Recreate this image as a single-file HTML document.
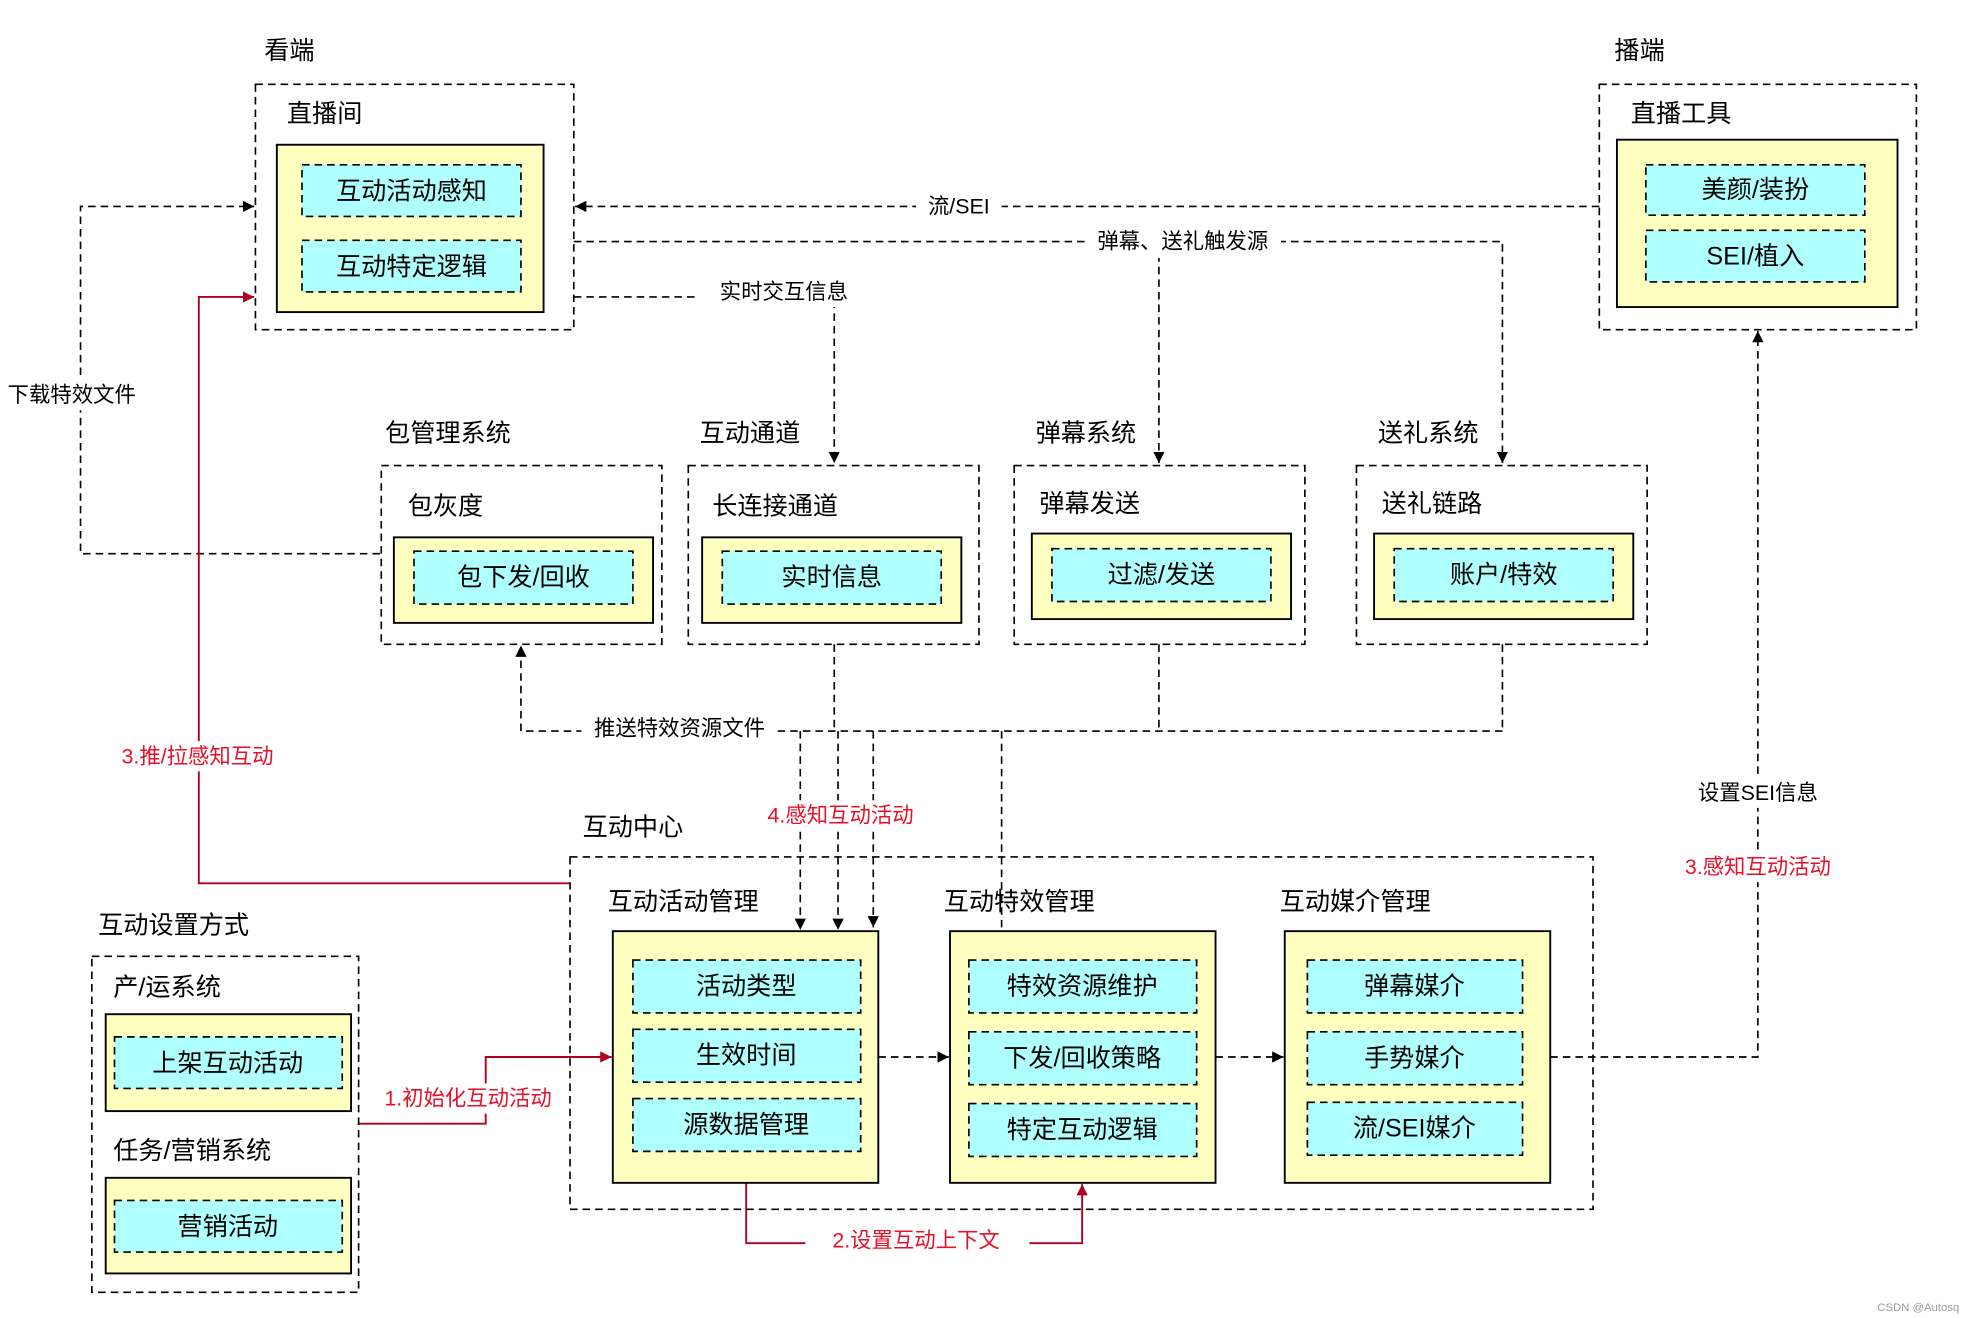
<!DOCTYPE html>
<html><head><meta charset="utf-8"><style>
html,body{margin:0;padding:0;background:#fff;}
svg{display:block}
text{font-family:"Liberation Sans","Noto Sans CJK SC",sans-serif;fill:#000;}
.t{font-size:20px}
.c{font-size:20px;text-anchor:middle;dominant-baseline:central}
.l{font-size:17px;text-anchor:middle;dominant-baseline:central}
.r{fill:#e8102a}
.d{fill:none;stroke:#000;stroke-width:1.3;stroke-dasharray:6,4}
.y{fill:#ffffc0;stroke:#000;stroke-width:1.5}
.cy{fill:#b0ffff;stroke:#000;stroke-width:1.3;stroke-dasharray:6,4}
.rl{fill:none;stroke:#b00020;stroke-width:1.5}
</style></head><body>
<svg width="1968" height="1318" viewBox="0 0 1564 1047.4" xmlns="http://www.w3.org/2000/svg">
<defs>
<marker id="a" viewBox="0 0 10 10" refX="10" refY="5" markerWidth="9" markerHeight="9" orient="auto" markerUnits="userSpaceOnUse"><path d="M0,0L10,5L0,10z" fill="#000"/></marker>
<marker id="ar" viewBox="0 0 10 10" refX="10" refY="5" markerWidth="9" markerHeight="9" orient="auto" markerUnits="userSpaceOnUse"><path d="M0,0L10,5L0,10z" fill="#b00020"/></marker>
</defs>
<!-- connectors -->
<path class="d" d="M1271,164H457" marker-end="url(#a)"/>
<path class="d" d="M456,192H1194V368" marker-end="url(#a)"/>
<path class="d" d="M921,192V368" marker-end="url(#a)"/>
<path class="d" d="M456,236H663V368" marker-end="url(#a)"/>
<path class="d" d="M302,440H64V164H202" marker-end="url(#a)"/>
<path class="rl" d="M453,702H158V236H202" marker-end="url(#ar)"/>
<path class="d" d="M663,512V581M921,512V581M1194,512V581M1194,581H414"/>
<path class="d" d="M414,581V513" marker-end="url(#a)"/>
<path class="d" d="M636,581V739" marker-end="url(#a)"/>
<path class="d" d="M666,581V739" marker-end="url(#a)"/>
<path class="d" d="M694,581V737" marker-end="url(#a)"/>
<path class="d" d="M796,581V740"/>
<path class="d" d="M698,840H754" marker-end="url(#a)"/>
<path class="d" d="M966,840H1020" marker-end="url(#a)"/>
<path class="d" d="M1232,840H1397V263" marker-end="url(#a)"/>
<path class="rl" d="M593,940V988H860V941" marker-end="url(#ar)"/>
<path class="rl" d="M285,893H386V840H486" marker-end="url(#ar)"/>
<!-- label backgrounds -->
<rect x="728" y="152" width="68" height="24" fill="#fff"/>
<rect x="862" y="181" width="156" height="24" fill="#fff"/>
<rect x="553" y="220" width="140" height="24" fill="#fff"/>
<rect x="4" y="302" width="110" height="24" fill="#fff"/>
<rect x="462" y="567" width="156" height="24" fill="#fff"/>
<rect x="600" y="636" width="136" height="24" fill="#fff"/>
<rect x="1340" y="618" width="114" height="24" fill="#fff"/>
<rect x="1330" y="677" width="134" height="24" fill="#fff"/>
<rect x="640" y="974" width="178" height="24" fill="#fff"/>
<rect x="298" y="861" width="148" height="24" fill="#fff"/>
<rect x="88" y="589" width="140" height="24" fill="#fff"/>
<!-- labels -->
<text class="l" x="762" y="164">流/SEI</text>
<text class="l" x="940" y="192">弹幕、送礼触发源</text>
<text class="l" x="623" y="232">实时交互信息</text>
<text class="l" x="57" y="314">下载特效文件</text>
<text class="l" x="540" y="579">推送特效资源文件</text>
<text class="l r" x="668" y="648">4.感知互动活动</text>
<text class="l" x="1397" y="630">设置SEI信息</text>
<text class="l r" x="1397" y="689">3.感知互动活动</text>
<text class="l r" x="728" y="986">2.设置互动上下文</text>
<text class="l r" x="372" y="873">1.初始化互动活动</text>
<text class="l r" x="157" y="601">3.推/拉感知互动</text>
<!-- top -->
<text class="t" x="210" y="47">看端</text>
<text class="t" x="1283" y="47">播端</text>
<rect class="d" x="203" y="67" width="253" height="195"/>
<text class="t" x="228" y="97">直播间</text>
<rect class="y" x="220" y="115" width="212" height="133"/>
<rect class="cy" x="240" y="131" width="174" height="41"/><text class="c" x="327" y="152">互动活动感知</text>
<rect class="cy" x="240" y="191" width="174" height="41"/><text class="c" x="327" y="212">互动特定逻辑</text>
<rect class="d" x="1271" y="67" width="252" height="195"/>
<text class="t" x="1296" y="97">直播工具</text>
<rect class="y" x="1285" y="111" width="223" height="133"/>
<rect class="cy" x="1308" y="131" width="174" height="40"/><text class="c" x="1395" y="151">美颜/装扮</text>
<rect class="cy" x="1308" y="183" width="174" height="41"/><text class="c" x="1395" y="204">SEI/植入</text>
<!-- middle -->
<text class="t" x="306" y="351">包管理系统</text>
<rect class="d" x="303" y="370" width="223" height="142"/>
<text class="t" x="324" y="409">包灰度</text>
<rect class="y" x="313" y="427" width="206" height="68"/>
<rect class="cy" x="329" y="438" width="174" height="42"/><text class="c" x="416" y="459">包下发/回收</text>
<text class="t" x="556" y="351">互动通道</text>
<rect class="d" x="547" y="370" width="231" height="142"/>
<text class="t" x="566" y="409">长连接通道</text>
<rect class="y" x="558" y="427" width="206" height="68"/>
<rect class="cy" x="574" y="438" width="174" height="42"/><text class="c" x="661" y="459">实时信息</text>
<text class="t" x="823" y="351">弹幕系统</text>
<rect class="d" x="806" y="370" width="231" height="142"/>
<text class="t" x="826" y="407">弹幕发送</text>
<rect class="y" x="820" y="424" width="206" height="68"/>
<rect class="cy" x="836" y="436" width="174" height="42"/><text class="c" x="923" y="457">过滤/发送</text>
<text class="t" x="1095" y="351">送礼系统</text>
<rect class="d" x="1078" y="370" width="231" height="142"/>
<text class="t" x="1098" y="407">送礼链路</text>
<rect class="y" x="1092" y="424" width="206" height="68"/>
<rect class="cy" x="1108" y="436" width="174" height="42"/><text class="c" x="1195" y="457">账户/特效</text>
<!-- center -->
<text class="t" x="463" y="664">互动中心</text>
<rect class="d" x="453" y="681" width="813" height="280"/>
<text class="t" x="483" y="723">互动活动管理</text>
<rect class="y" x="487" y="740" width="211" height="200"/>
<rect class="cy" x="503" y="763" width="181" height="42"/><text class="c" x="593" y="784">活动类型</text>
<rect class="cy" x="503" y="818" width="181" height="42"/><text class="c" x="593" y="839">生效时间</text>
<rect class="cy" x="503" y="873" width="181" height="42"/><text class="c" x="593" y="894">源数据管理</text>
<text class="t" x="750" y="723">互动特效管理</text>
<rect class="y" x="755" y="740" width="211" height="200"/>
<rect class="cy" x="770" y="763" width="181" height="42"/><text class="c" x="860" y="784">特效资源维护</text>
<rect class="cy" x="770" y="820" width="181" height="42"/><text class="c" x="860" y="841">下发/回收策略</text>
<rect class="cy" x="770" y="877" width="181" height="42"/><text class="c" x="860" y="898">特定互动逻辑</text>
<text class="t" x="1017" y="723">互动媒介管理</text>
<rect class="y" x="1021" y="740" width="211" height="200"/>
<rect class="cy" x="1039" y="763" width="171" height="42"/><text class="c" x="1124" y="784">弹幕媒介</text>
<rect class="cy" x="1039" y="820" width="171" height="42"/><text class="c" x="1124" y="841">手势媒介</text>
<rect class="cy" x="1039" y="876" width="171" height="42"/><text class="c" x="1124" y="897">流/SEI媒介</text>
<!-- settings -->
<text class="t" x="78" y="742">互动设置方式</text>
<rect class="d" x="73" y="760" width="212" height="267"/>
<text class="t" x="90" y="791">产/运系统</text>
<rect class="y" x="84" y="806" width="195" height="77"/>
<rect class="cy" x="91" y="824" width="181" height="41"/><text class="c" x="181" y="845">上架互动活动</text>
<text class="t" x="90" y="921">任务/营销系统</text>
<rect class="y" x="84" y="936" width="195" height="76"/>
<rect class="cy" x="91" y="954" width="181" height="41"/><text class="c" x="181" y="975">营销活动</text>
<text x="1557" y="1042" style="font-size:9px;fill:#999;text-anchor:end">CSDN @Autosq</text>
</svg>
</body></html>
